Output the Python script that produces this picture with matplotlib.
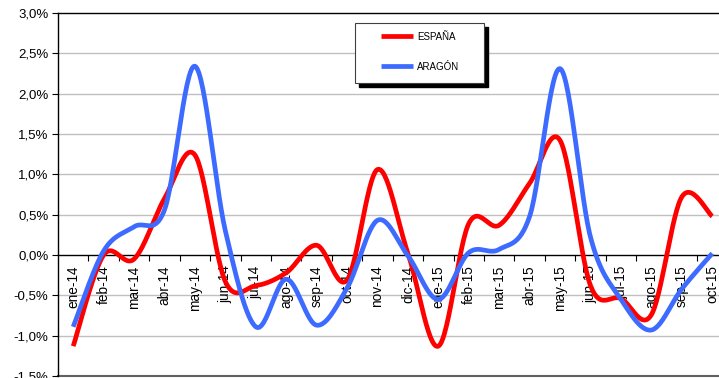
import numpy as np
import matplotlib
matplotlib.use("Agg")
import matplotlib.pyplot as plt
from matplotlib.ticker import FuncFormatter, FixedLocator
from matplotlib.patches import Rectangle
from matplotlib.lines import Line2D

plt.rcParams['font.family'] = ['Liberation Sans', 'DejaVu Sans']

months = ['ene-14', 'feb-14', 'mar-14', 'abr-14', 'may-14', 'jun-14', 'jul-14',
          'ago-14', 'sep-14', 'oct-14', 'nov-14', 'dic-14', 'ene-15', 'feb-15',
          'mar-15', 'abr-15', 'may-15', 'jun-15', 'jul-15', 'ago-15', 'sep-15',
          'oct-15']
espana = [-1.13, 0.00, -0.05, 0.70, 1.24, -0.33, -0.38, -0.22, 0.12, -0.31, 1.06,
          0.02, -1.13, 0.39, 0.37, 0.89, 1.42, -0.38, -0.54, -0.74, 0.72, 0.48]
aragon = [-0.89, 0.05, 0.35, 0.56, 2.34, 0.30, -0.89, -0.30, -0.87, -0.41, 0.43,
          -0.01, -0.55, 0.03, 0.07, 0.48, 2.31, 0.22, -0.55, -0.93, -0.42, 0.02]
series_names = ['ESPAÑA', 'ARAGÓN']
yticks = [-1.5, -1.0, -0.5, 0.0, 0.5, 1.0, 1.5, 2.0, 2.5, 3.0]


def smooth(x, y, n=30):
    """Catmull-Rom smoothing (like Excel's smoothed line)."""
    x = np.asarray(x, float)
    y = np.asarray(y, float)
    px = np.concatenate([[x[0]], x, [x[-1]]])
    py = np.concatenate([[y[0]], y, [y[-1]]])
    xs, ys = [], []
    t = np.linspace(0, 1, n, endpoint=False)
    for i in range(1, len(px) - 2):
        p0x, p1x, p2x, p3x = px[i - 1:i + 3]
        p0y, p1y, p2y, p3y = py[i - 1:i + 3]
        c1x = p1x + (p2x - p0x) / 6
        c1y = p1y + (p2y - p0y) / 6
        c2x = p2x - (p3x - p1x) / 6
        c2y = p2y - (p3y - p1y) / 6
        bx = (1 - t) ** 3 * p1x + 3 * (1 - t) ** 2 * t * c1x + 3 * (1 - t) * t ** 2 * c2x + t ** 3 * p2x
        by = (1 - t) ** 3 * p1y + 3 * (1 - t) ** 2 * t * c1y + 3 * (1 - t) * t ** 2 * c2y + t ** 3 * p2y
        xs.append(bx)
        ys.append(by)
    xs.append([x[-1]])
    ys.append([y[-1]])
    return np.concatenate(xs), np.concatenate(ys)


W, H = 719, 378
fig = plt.figure(figsize=(W / 100, H / 100), dpi=100)
ax_left, ax_right, ax_top, ax_bot = 58, 719, 13, 376
ax = fig.add_axes([ax_left / W, (H - ax_bot) / H, (ax_right - ax_left) / W,
                   (ax_bot - ax_top) / H])

x = np.arange(len(months))
colors = ['#ff0000', '#3d6bff']
for vals, col, name in zip([espana, aragon], colors, series_names):
    sx, sy = smooth(x, vals)
    ax.plot(sx, sy, color=col, lw=3.4, solid_capstyle='butt', label=name, zorder=3)

step = 30.43
ax.set_xlim(-0.5, -0.5 + (ax_right - ax_left) / step)
ax.set_ylim(-1.5, 3.0)

for v in yticks:
    if v not in (0.0, 3.0, -1.5):
        ax.axhline(v, color='#c0c0c0', lw=1.0, zorder=1)
ax.axhline(-1.5, color='#606060', lw=1.5, zorder=1, clip_on=False)

ax.yaxis.set_major_locator(FixedLocator(yticks))
ax.yaxis.set_major_formatter(FuncFormatter(lambda v, p: f"{v:.1f}".replace('.', ',') + '%'))
ax.tick_params(axis='y', direction='out', length=4, width=0.8, pad=3,
               labelsize=9.5, colors='black')

ax.spines['bottom'].set_position(('data', 0))
ax.spines['right'].set_visible(False)
for s in ['bottom', 'top', 'left']:
    ax.spines[s].set_color('black')
    ax.spines[s].set_linewidth(1.0)
ax.set_xticks(x)
ax.set_xticklabels(months, rotation=90, va='top', ha='center')
ax.set_xticks(np.arange(0.5, len(months) - 0.5, 1), minor=True)
ax.tick_params(axis='x', which='major', length=0, pad=7.5, labelsize=9.8)
ax.tick_params(axis='x', which='minor', direction='out', length=4.5, width=0.8)


def fx(px):
    return px / W


def fy(py):
    return (H - py) / H


bx0, bx1, by0, by1 = 355, 484, 23, 83
fig.patches.append(Rectangle((fx(bx0 + 4), fy(by1 + 4)), (bx1 - bx0) / W, (by1 - by0) / H,
                             transform=fig.transFigure, facecolor='black', edgecolor='black', zorder=5))
fig.patches.append(Rectangle((fx(bx0), fy(by1)), (bx1 - bx0) / W, (by1 - by0) / H,
                             transform=fig.transFigure, facecolor='white', edgecolor='#404040',
                             lw=0.8, zorder=6))
for name, col, ly in zip(series_names, colors, [36, 66]):
    fig.lines.append(Line2D([fx(381), fx(413)], [fy(ly), fy(ly)], transform=fig.transFigure,
                            color=col, lw=3.4, solid_capstyle='butt', zorder=7))
    fig.text(fx(417), fy(ly + 1), name, fontsize=7, va='center', ha='left', zorder=7)

fig.savefig('out.png', dpi=100)
